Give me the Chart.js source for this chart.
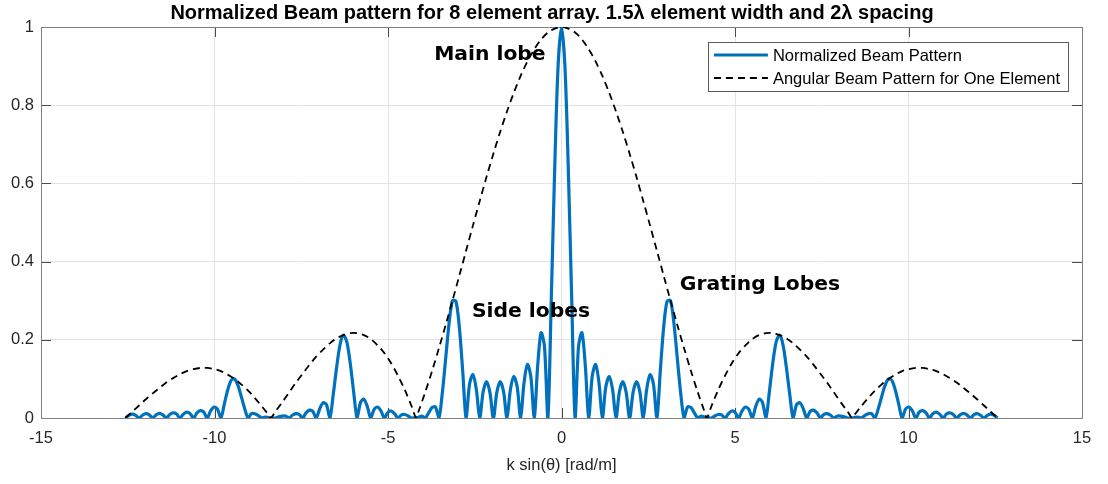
<!DOCTYPE html>
<html>
<head>
<meta charset="utf-8">
<script src="https://cdn.jsdelivr.net/npm/chart.js@4/dist/chart.umd.min.js"></script>
<style>
html,body{margin:0;padding:0;background:#fff;}
#wrap{width:1108px;height:484px;}
</style>
</head>
<body>
<div id="wrap"><canvas id="c" width="1108" height="484"></canvas></div>
<script>
// ---------------- data ----------------
const chartTitle = 'Normalized Beam pattern for 8 element array. 1.5\u03BB element width and 2\u03BB spacing';
const xAxisLabel = 'k sin(\u03B8) [rad/m]';
const seriesNames = ['Normalized Beam Pattern', 'Angular Beam Pattern for One Element'];
const xTicks = [-15, -10, -5, 0, 5, 10, 15];
const yTicks = [0, 0.2, 0.4, 0.6, 0.8, 1];
const yTickLabels = ['0', '0.2', '0.4', '0.6', '0.8', '1'];

const beamX = [
-12.566,
-12.468,-12.370,-12.272,-12.174,-12.076,-11.977,-11.879,-11.781,
-11.683,-11.585,-11.486,-11.388,-11.290,-11.192,-11.094,-10.996,
-10.897,-10.799,-10.701,-10.603,-10.505,-10.407,-10.308,-10.210,
-10.112,-10.014,-9.916,-9.817,-9.719,-9.621,-9.523,-9.425,
-9.327,-9.228,-9.130,-9.032,-8.934,-8.836,-8.738,-8.639,
-8.541,-8.443,-8.345,-8.247,-8.148,-8.050,-7.952,-7.854,
-7.756,-7.658,-7.559,-7.461,-7.363,-7.265,-7.167,-7.069,
-6.970,-6.872,-6.774,-6.676,-6.578,-6.480,-6.381,-6.283,
-6.185,-6.087,-5.989,-5.890,-5.792,-5.694,-5.596,-5.498,
-5.400,-5.301,-5.203,-5.105,-5.007,-4.909,-4.811,-4.712,
-4.614,-4.516,-4.418,-4.320,-4.222,-4.123,-4.025,-3.927,
-3.829,-3.731,-3.632,-3.534,-3.436,-3.338,-3.240,-3.142,
-3.043,-2.945,-2.847,-2.749,-2.651,-2.553,-2.454,-2.356,
-2.258,-2.160,-2.062,-1.963,-1.865,-1.767,-1.669,-1.571,
-1.473,-1.374,-1.276,-1.178,-1.080,-0.982,-0.884,-0.785,
-0.687,-0.589,-0.491,-0.393,-0.295,-0.196,-0.098,
0,0.098,0.196,0.295,0.393,0.491,0.589,0.687,
0.785,0.884,0.982,1.080,1.178,1.276,1.374,1.473,
1.571,1.669,1.767,1.865,1.963,2.062,2.160,2.258,
2.356,2.454,2.553,2.651,2.749,2.847,2.945,3.043,
3.142,3.240,3.338,3.436,3.534,3.632,3.731,3.829,
3.927,4.025,4.123,4.222,4.320,4.418,4.516,4.614,
4.712,4.811,4.909,5.007,5.105,5.203,5.301,5.400,
5.498,5.596,5.694,5.792,5.890,5.989,6.087,6.185,
6.283,6.381,6.480,6.578,6.676,6.774,6.872,6.970,
7.069,7.167,7.265,7.363,7.461,7.559,7.658,7.756,
7.854,7.952,8.050,8.148,8.247,8.345,8.443,8.541,
8.639,8.738,8.836,8.934,9.032,9.130,9.228,9.327,
9.425,9.523,9.621,9.719,9.817,9.916,10.014,10.112,
10.210,10.308,10.407,10.505,10.603,10.701,10.799,10.897,
10.996,11.094,11.192,11.290,11.388,11.486,11.585,11.683,
11.781,11.879,11.977,12.076,12.174,12.272,12.370,12.468,
12.566
];
const beamY = [
0,
0.007,0.010,0.007,0,0.007,0.011,0.008,0,
0.008,0.012,0.008,0,0.009,0.013,0.010,0,
0.010,0.015,0.011,0,0.013,0.019,0.015,0,
0.018,0.028,0.023,0,0.035,0.071,0.096,0.100,
0.084,0.055,0.024,0,0.011,0.011,0.006,0,
0.002,0.001,0,0,0.003,0.005,0.005,0,
0.007,0.011,0.009,0,0.013,0.020,0.017,0,
0.023,0.039,0.034,0,0.060,0.130,0.188,0.212,
0.194,0.139,0.066,0,0.040,0.048,0.029,0,
0.022,0.028,0.018,0,0.014,0.018,0.011,0,
0.008,0.009,0.005,0,0.001,0.002,0.005,0,
0.013,0.027,0.028,0,0.063,0.152,0.242,0.300,
0.299,0.233,0.120,0,0.086,0.111,0.073,0,
0.067,0.093,0.065,0,0.065,0.093,0.067,0,
0.072,0.106,0.079,0,0.090,0.137,0.106,0,
0.133,0.218,0.183,0,0.302,0.638,0.901,
1,0.901,0.638,0.302,0,0.183,0.218,0.133,
0,0.106,0.137,0.090,0,0.079,0.106,0.072,
0,0.067,0.093,0.065,0,0.065,0.093,0.067,
0,0.073,0.111,0.086,0,0.120,0.233,0.299,
0.300,0.242,0.152,0.063,0,0.028,0.027,0.013,
0,0.005,0.002,0.001,0,0.005,0.009,0.008,
0,0.011,0.018,0.014,0,0.018,0.028,0.022,
0,0.029,0.048,0.040,0,0.066,0.139,0.194,
0.212,0.188,0.130,0.060,0,0.034,0.039,0.023,
0,0.017,0.020,0.013,0,0.009,0.011,0.007,
0,0.005,0.005,0.003,0,0,0.001,0.002,
0,0.006,0.011,0.011,0,0.024,0.055,0.084,
0.100,0.096,0.071,0.035,0,0.023,0.028,0.018,
0,0.015,0.019,0.013,0,0.011,0.015,0.010,
0,0.010,0.013,0.009,0,0.008,0.012,0.008,
0,0.008,0.011,0.007,0,0.007,0.010,0.007,
0
];

const elemX = [
-12.566,-12.370,-12.174,-11.977,-11.781,-11.585,-11.388,-11.192,-10.996,-10.799,
-10.603,-10.407,-10.210,-10.014,-9.817,-9.621,-9.425,-9.228,-9.032,-8.836,
-8.639,-8.443,-8.378,-8.247,-8.050,-7.854,-7.658,-7.461,-7.265,-7.069,
-6.872,-6.676,-6.480,-6.283,-6.087,-5.890,-5.694,-5.498,-5.301,-5.105,
-4.909,-4.712,-4.516,-4.320,-4.189,-4.123,-3.927,-3.731,-3.534,-3.338,
-3.142,-2.945,-2.749,-2.553,-2.356,-2.160,-1.963,-1.767,-1.571,-1.374,
-1.178,-0.982,-0.785,-0.589,-0.393,-0.196,
0,0.196,0.393,0.589,0.785,0.982,1.178,1.374,1.571,1.767,
1.963,2.160,2.356,2.553,2.749,2.945,3.142,3.338,3.534,3.731,
3.927,4.123,4.189,4.320,4.516,4.712,4.909,5.105,5.301,5.498,
5.694,5.890,6.087,6.283,6.480,6.676,6.872,7.069,7.265,7.461,
7.658,7.854,8.050,8.247,8.378,8.443,8.639,8.836,9.032,9.228,
9.425,9.621,9.817,10.014,10.210,10.407,10.603,10.799,10.996,11.192,
11.388,11.585,11.781,11.977,12.174,12.370,12.566
];
const elemY = [
0,0.016,0.032,0.048,0.063,0.077,0.091,0.102,0.112,0.120,
0.125,0.128,0.128,0.125,0.120,0.111,0.100,0.086,0.070,0.051,
0.030,0.008,0,0.016,0.040,0.065,0.090,0.113,0.136,0.157,
0.175,0.191,0.204,0.212,0.217,0.217,0.212,0.202,0.186,0.166,
0.140,0.108,0.072,0.030,0,0.016,0.066,0.120,0.178,0.238,
0.300,0.364,0.428,0.492,0.555,0.617,0.676,0.732,0.784,0.832,
0.875,0.912,0.943,0.968,0.986,0.996,
1,0.996,0.986,0.968,0.943,0.912,0.875,0.832,0.784,0.732,
0.676,0.617,0.555,0.492,0.428,0.364,0.300,0.238,0.178,0.120,
0.066,0.016,0,0.030,0.072,0.108,0.140,0.166,0.186,0.202,
0.212,0.217,0.217,0.212,0.204,0.191,0.175,0.157,0.136,0.113,
0.090,0.065,0.040,0.016,0,0.008,0.030,0.051,0.070,0.086,
0.100,0.111,0.120,0.125,0.128,0.128,0.125,0.120,0.112,0.102,
0.091,0.077,0.063,0.048,0.032,0.016,0
];

const noteTexts = ['Main lobe', 'Side lobes', 'Grating Lobes'];
const noteX = [-3.67, -2.58, 3.41];
const noteY = [0.928, 0.271, 0.340];

// ---------------- chart ----------------
const FONT = "'Liberation Sans', Arial, Helvetica, sans-serif";
const BLUE = '#0072BD';

const framePlugin = {
  id: 'frame',
  beforeDatasetsDraw(chart) {
    const {ctx, chartArea: a, scales} = chart;
    ctx.save();
    ctx.strokeStyle = '#4a4a4a';
    ctx.lineWidth = 1;
    const L = 10;
    ctx.beginPath();
    xTicks.forEach(v => {
      const p = Math.round(scales.x.getPixelForValue(v)) + 0.5;
      ctx.moveTo(p, a.bottom); ctx.lineTo(p, a.bottom - L);
      ctx.moveTo(p, a.top); ctx.lineTo(p, a.top + L);
    });
    yTicks.forEach(v => {
      const p = Math.round(scales.y.getPixelForValue(v)) + 0.5;
      ctx.moveTo(a.left, p); ctx.lineTo(a.left + L, p);
      ctx.moveTo(a.right, p); ctx.lineTo(a.right - L, p);
    });
    ctx.stroke();
    ctx.strokeStyle = '#808080';
    ctx.strokeRect(Math.round(a.left) + 0.5, Math.round(a.top) + 0.5,
                   Math.round(a.right - a.left), Math.round(a.bottom - a.top));
    ctx.restore();
  },
  afterDraw(chart) {
    const {ctx, chartArea: a, scales} = chart;
    ctx.save();
    // title
    ctx.fillStyle = '#000';
    ctx.font = 'bold 20px ' + FONT;
    ctx.textAlign = 'center';
    ctx.textBaseline = 'middle';
    ctx.fillText(chartTitle, 552, 13);
    // annotations
    ctx.font = "bold 20.3px 'DejaVu Sans', sans-serif";
    ctx.textAlign = 'left';
    noteTexts.forEach((t, i) => {
      ctx.fillText(t, scales.x.getPixelForValue(noteX[i]), scales.y.getPixelForValue(noteY[i]));
    });
    // legend
    ctx.font = '16.5px ' + FONT;
    const tw = Math.max(...chart.data.datasets.map(d => ctx.measureText(d.label).width));
    const w = 6 + 54 + 5 + tw + 8;
    const right = a.right - 14, top = a.top + 15, h = 49;
    const left = right - w;
    ctx.fillStyle = '#fff';
    ctx.fillRect(left, top, w, h);
    ctx.strokeStyle = '#5a5a5a';
    ctx.lineWidth = 1;
    ctx.strokeRect(Math.round(left) + 0.5, top + 0.5, Math.round(w), h);
    const rows = [top + 13, top + 36];
    chart.data.datasets.forEach((d, i) => {
      ctx.save();
      ctx.strokeStyle = d.borderColor;
      ctx.lineWidth = d.borderWidth;
      ctx.setLineDash(d.borderDash || []);
      ctx.beginPath();
      ctx.moveTo(left + 6, rows[i]); ctx.lineTo(left + 60, rows[i]);
      ctx.stroke();
      ctx.restore();
      ctx.fillStyle = '#000';
      ctx.textAlign = 'left';
      ctx.textBaseline = 'middle';
      ctx.fillText(d.label, left + 65, rows[i] + 1);
    });
    ctx.restore();
  }
};

new Chart(document.getElementById('c'), {
  type: 'line',
  data: {
    datasets: [
      {
        label: seriesNames[0],
        data: beamX.map((x, i) => ({x: x, y: beamY[i]})),
        borderColor: BLUE, borderWidth: 3.2, pointRadius: 0, tension: 0.3,
        fill: false, order: 2
      },
      {
        label: seriesNames[1],
        data: elemX.map((x, i) => ({x: x, y: elemY[i]})),
        borderColor: '#000', borderWidth: 1.8, borderDash: [7, 5], pointRadius: 0, tension: 0.3,
        fill: false, order: 1
      }
    ]
  },
  options: {
    responsive: false,
    animation: false,
    devicePixelRatio: 1,
    layout: {padding: {left: 0, right: 26, top: 27, bottom: 0}},
    plugins: {
      legend: {display: false},
      tooltip: {enabled: false},
      title: {display: false}
    },
    scales: {
      x: {
        type: 'linear', min: -15, max: 15,
        afterBuildTicks: s => { s.ticks = xTicks.map(v => ({value: v})); },
        afterFit: s => { s.height = 66; },
        ticks: {color: '#262626', font: {family: FONT, size: 16.5}, padding: 11, maxRotation: 0},
        grid: {color: '#e3e3e3', drawTicks: false},
        border: {display: false},
        title: {display: true, text: xAxisLabel, color: '#262626',
                font: {family: FONT, size: 16.5}, padding: {top: 0, bottom: 9}}
      },
      y: {
        type: 'linear', min: 0, max: 1,
        afterBuildTicks: s => { s.ticks = yTicks.map(v => ({value: v})); },
        afterFit: s => { s.width = 41; },
        ticks: {color: '#262626', font: {family: FONT, size: 16.5}, padding: 7,
                callback: (v) => yTickLabels[yTicks.indexOf(v)] ?? String(v)},
        grid: {color: '#e3e3e3', drawTicks: false},
        border: {display: false}
      }
    }
  },
  plugins: [framePlugin]
});
</script>
</body>
</html>
